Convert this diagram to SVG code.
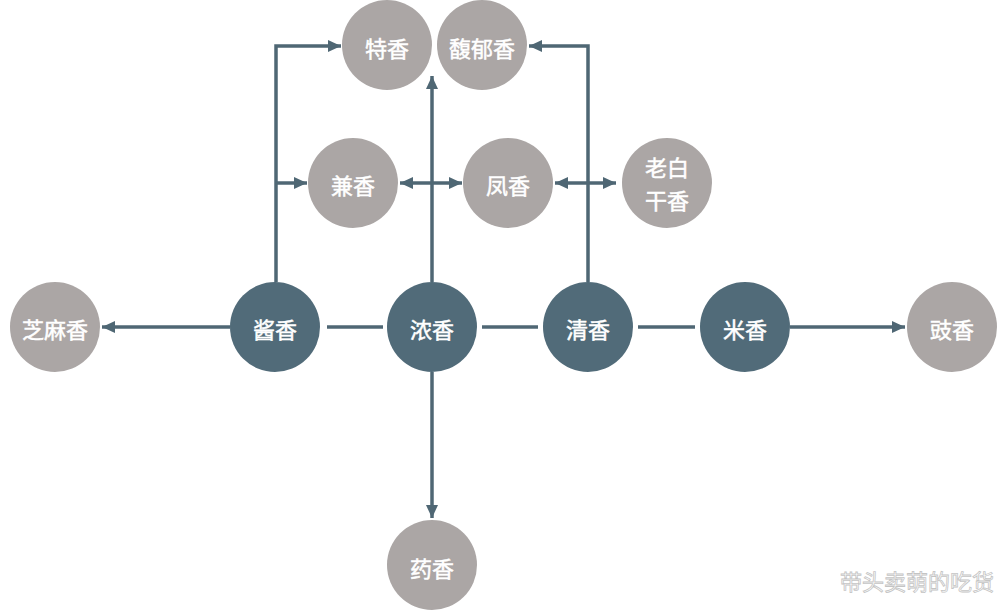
<svg xmlns="http://www.w3.org/2000/svg" width="1008" height="610" viewBox="0 0 1008 610">
<style>
.dark{fill:#516b79}
.gray{fill:#aba6a5}
.t{fill:#ffffff;stroke:#ffffff;stroke-width:0.5;font-family:"Noto Sans CJK SC","Noto Sans",sans-serif;font-size:22px;font-weight:normal;text-anchor:middle;dominant-baseline:central}
.c{fill:none;stroke:#4f6774;stroke-width:3.5}
.wm{fill:#ffffff;stroke:#c4c4c4;stroke-width:0.8;font-family:"Noto Sans CJK SC",sans-serif;font-size:22px;text-anchor:middle;dominant-baseline:central}
</style>
<defs>
<marker id="ah" viewBox="0 0 13 12" refX="13" refY="6" markerWidth="13" markerHeight="12" markerUnits="userSpaceOnUse" orient="auto-start-reverse">
<path d="M0,0 L13,6 L0,12 Z" fill="#4f6774"/>
</marker>
</defs>
<g id="connectors">
<line class="c" x1="327" y1="327" x2="383" y2="327"/>
<line class="c" x1="482" y1="327" x2="538" y2="327"/>
<line class="c" x1="638" y1="327" x2="695" y2="327"/>
<line class="c" x1="230" y1="327" x2="102" y2="327" marker-end="url(#ah)"/>
<line class="c" x1="790" y1="327" x2="905" y2="327" marker-end="url(#ah)"/>
<polyline class="c" points="276,282 276,46 341,46" marker-end="url(#ah)"/>
<line class="c" x1="276" y1="183" x2="307" y2="183" marker-end="url(#ah)"/>
<polyline class="c" points="588,282 588,46 529,46" marker-end="url(#ah)"/>
<line class="c" x1="432" y1="282" x2="432" y2="76" marker-end="url(#ah)"/>
<line class="c" x1="432" y1="372" x2="432" y2="518" marker-end="url(#ah)"/>
<line class="c" x1="400" y1="183" x2="462" y2="183" marker-start="url(#ah)" marker-end="url(#ah)"/>
<line class="c" x1="555" y1="183" x2="616" y2="183" marker-start="url(#ah)" marker-end="url(#ah)"/>
</g>
<g id="n-jiang"><circle class="dark" cx="275" cy="327" r="45"/><text class="t" x="275" y="328">酱香</text></g>
<g id="n-nong"><circle class="dark" cx="432" cy="327" r="45"/><text class="t" x="432" y="328">浓香</text></g>
<g id="n-qing"><circle class="dark" cx="588" cy="327" r="45"/><text class="t" x="588" y="328">清香</text></g>
<g id="n-mi"><circle class="dark" cx="745" cy="327" r="45"/><text class="t" x="745" y="328">米香</text></g>
<g id="n-zhima"><circle class="gray" cx="55" cy="327" r="45"/><text class="t" x="55" y="328">芝麻香</text></g>
<g id="n-chi"><circle class="gray" cx="952" cy="327" r="45"/><text class="t" x="952" y="328">豉香</text></g>
<g id="n-te"><circle class="gray" cx="387" cy="45" r="45"/><text class="t" x="387" y="47">特香</text></g>
<g id="n-fuyu"><circle class="gray" cx="482" cy="45" r="45"/><text class="t" x="482" y="47">馥郁香</text></g>
<g id="n-jian"><circle class="gray" cx="353" cy="183" r="45"/><text class="t" x="353" y="184">兼香</text></g>
<g id="n-feng"><circle class="gray" cx="508" cy="183" r="45"/><text class="t" x="508" y="184">凤香</text></g>
<g id="n-laobai"><circle class="gray" cx="667" cy="183" r="45"/><text class="t" x="667" y="166">老白</text><text class="t" x="667" y="199">干香</text></g>
<g id="n-yao"><circle class="gray" cx="432" cy="565" r="45"/><text class="t" x="432" y="567">药香</text></g>
<text class="wm" x="917" y="580">带头卖萌的吃货</text>
</svg>
